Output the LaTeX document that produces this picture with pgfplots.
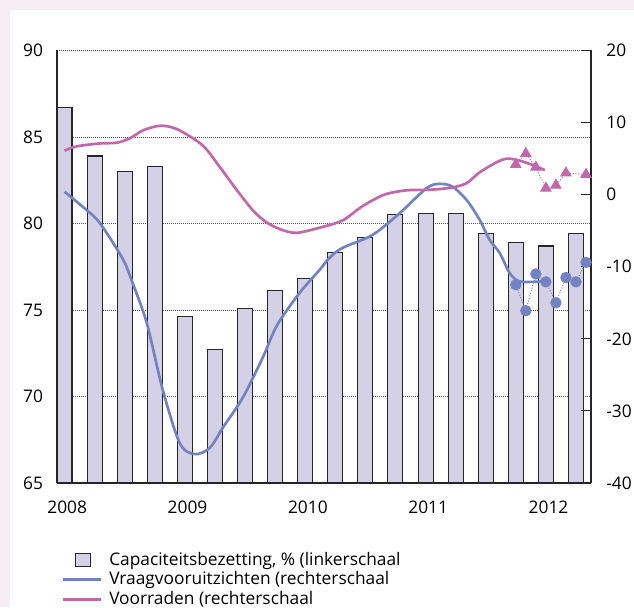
\documentclass[border=0pt]{standalone}
\usepackage{fontspec}
\setmainfont{Open Sans}
\usepackage{pgfplots}
\pgfplotsset{compat=1.18}
\definecolor{bgpink}{HTML}{F7EEF4}
\definecolor{barfill}{HTML}{D4D1E6}
\definecolor{blueline}{HTML}{7383C2}
\definecolor{pinkline}{HTML}{C268AA}
\definecolor{gridc}{HTML}{555555}
\begin{document}
\fontsize{13pt}{15.6pt}\selectfont
\begin{tikzpicture}
\useasboundingbox (0,0) rectangle (475.5pt,455.25pt);
\fill[bgpink] (0,0) rectangle (475.5pt,455.25pt);
\fill[white] (7.5pt,0) rectangle (475.5pt,447.75pt);
\pgfplotsset{
  common/.style={
    at={(42.75pt,93pt)}, anchor=south west,
    scale only axis, width=400.5pt, height=324.4pt,
    xmin=-0.75, xmax=52.5,
    /pgf/number format/assume math mode=true,
    tick label style={font=\fontsize{13pt}{15.6pt}\selectfont},
  }
}
\begin{axis}[common,
  ymin=65, ymax=90,
  axis x line*=bottom, axis y line*=left,
  axis line style={black!85, line width=0.8pt},
  ytick={65,70,75,80,85,90},
  xtick={0,12,24,36,48},
  xticklabels={2008,2009,2010,2011,2012},
  major tick length=0pt,
  ymajorgrids,
  major grid style={gridc, line width=0.6pt, dash pattern=on 0.75pt off 0.75pt},
  yticklabel style={xshift=-6pt},
  xticklabel style={yshift=-9pt, xshift=2pt},
]
\addplot[ybar, bar width=11.25pt, fill=barfill, draw=black!85, line width=0.8pt] coordinates {
(0,86.7) (3,83.9) (6,83.0) (9,83.3) (12,74.6) (15,72.7) (18,75.1) (21,76.1) (24,76.8)
(27,78.3) (30,79.2) (33,80.5) (36,80.6) (39,80.6) (42,79.4) (45,78.9) (48,78.7) (51,79.4)
};
\end{axis}
\begin{axis}[common,
  ymin=-40, ymax=20,
  hide x axis,
  axis y line*=right,
  axis line style={black!85, line width=0.8pt},
  ytick={-40,-30,-20,-10,0,10,20},
  yticklabels={-40,-30,-20,-10,0,10,20},
  tick align=inside,
  major tick length=7.5pt,
  tick style={black!85, line width=0.8pt},
  yticklabel style={xshift=7pt},
  legend style={at={(0.0,-0.148)}, anchor=north west, draw=none, fill=none,
    font=\fontsize{13pt}{15.6pt}\selectfont, row sep=0pt,
    nodes={inner sep=1.5pt},
    /tikz/every odd column/.append style={column sep=4pt}},
  legend cell align=left,
]
\addlegendimage{legend image code/.code={\draw[fill=barfill,draw=black!85,line width=0.6pt] (9.5pt,-5pt) rectangle (20.5pt,5pt);}}
\addlegendentry{Capaciteitsbezetting, \% (linkerschaal}
\addlegendimage{legend image code/.code={\draw[blueline,line width=2pt] (0pt,0pt) -- (28.5pt,0pt);}}
\addlegendentry{Vraagvooruitzichten (rechterschaal}
\addlegendimage{legend image code/.code={\draw[pinkline,line width=2pt] (0pt,0pt) -- (28.5pt,0pt);}}
\addlegendentry{Voorraden (rechterschaal}
% Vraagvooruitzichten
\addplot[forget plot, blueline, line width=2pt, smooth, no markers] coordinates {
(0,0.4) (2,-1.9) (3.5,-3.9) (5.8,-8.9) (6.8,-12.3) (8.2,-17.8) (9.8,-27.1) (11.5,-34.5)
(13,-36.0) (14.5,-35.1) (15.8,-32.3) (17.8,-28.1) (19.8,-22.5) (21.2,-18.1) (23.4,-13.7)
(25.4,-10.5) (26.4,-8.8) (27.7,-7.4) (30.7,-5.6) (33.4,-2.6) (36.1,0.9) (37.4,1.5) (38.7,1.1)
(40.1,-0.75) (41.4,-3.5) (42.4,-6.3) (43.4,-8.1) (44.4,-10.9) (45.3,-12.0) (46.7,-12.1) (48,-12.0)
};
% Voorraden
\addplot[forget plot, pinkline, line width=2pt, smooth, no markers] coordinates {
(0,6.1) (1.2,6.7) (3.5,7.1) (5.2,7.2) (6.5,7.8) (7.8,8.9) (9.2,9.5) (10.2,9.5) (11.5,8.9)
(13.8,6.8) (15.5,3.8) (17.2,0.6) (18.8,-2.2) (20.1,-3.8) (21.5,-4.8) (23.1,-5.3) (25.4,-4.6)
(27.7,-3.6) (29.4,-1.9) (30.7,-0.8) (32.1,0.1) (34.1,0.6) (36.7,0.7) (38.7,1.0) (40.1,1.6)
(41.4,3.1) (43.1,4.5) (44.1,5.0) (45.3,4.75) (46.7,4.1) (47.9,3.4)
};
% monthly points
\addplot[forget plot, blueline, line width=0.7pt, dash pattern=on 0.8pt off 1.2pt,
  mark=*, mark size=3.9pt, mark options={solid, fill=blueline, draw=blueline}] coordinates {
(45,-12.5) (46,-16.1) (47,-11.0) (48,-12.1) (49,-15.0) (50,-11.5) (51,-12.1) (52,-9.4)
};
\addplot[forget plot, pinkline, line width=0.7pt, dash pattern=on 0.8pt off 1.2pt,
  mark=triangle*, mark size=4.4pt, mark options={solid, fill=pinkline, draw=pinkline}] coordinates {
(45,4.2) (46,5.7) (47,3.8) (48,0.9) (49,1.3) (50,3.0) (52,2.8)
};
\end{axis}
\end{tikzpicture}
\end{document}
